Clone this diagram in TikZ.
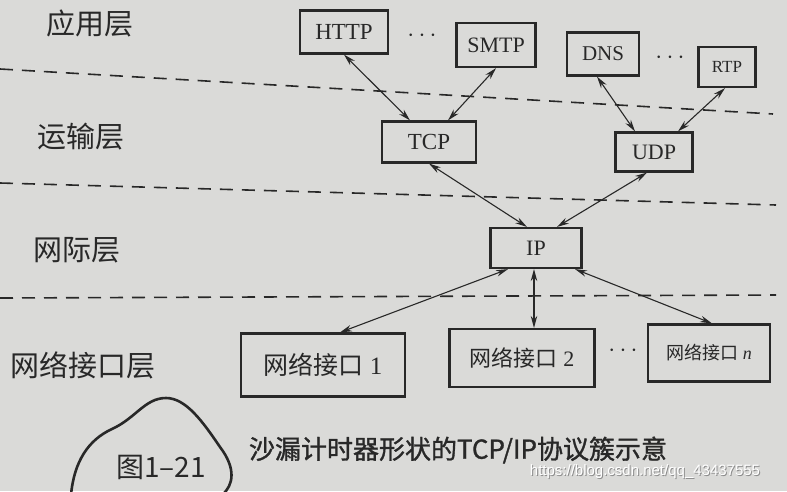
\documentclass[tikz,border=0pt]{standalone}
\usepackage{fontspec}
\setmainfont{Liberation Serif}
\newfontfamily\cjk{Noto Sans CJK SC}
\newfontfamily\cjkbold[FakeBold=1.2]{Noto Sans CJK SC}
\newfontfamily\wmfont{Liberation Sans}
\usetikzlibrary{arrows.meta}
\definecolor{paper}{RGB}{218,218,216}
\definecolor{ink}{RGB}{40,40,40}
\begin{document}
\begin{tikzpicture}[x=1pt,y=-1pt,
  box/.style={draw=ink, line width=2.2pt, inner sep=0pt, text=ink, align=center},
  link/.style={draw=ink, line width=1.1pt, {Stealth[length=12pt,width=6.5pt]}-{Stealth[length=12pt,width=6.5pt]}},
  layer/.style={text=ink, font=\cjk\fontsize{29}{33}\selectfont},
  sep/.style={draw=ink, line width=1.6pt, dash pattern=on 13pt off 9pt},
  dots/.style={text=ink, font=\fontsize{30}{34}\selectfont}
]
\useasboundingbox (0,0) rectangle (787,491);
\clip (0,0) rectangle (787,491);
\fill[paper] (0,0) rectangle (787,491);

% separators
\coordinate (s1a) at (0,69);  \coordinate (s1b) at (773,114);
\coordinate (s2a) at (0,183); \coordinate (s2b) at (776,205);
\coordinate (s3a) at (0,298); \coordinate (s3b) at (776,295);
\draw[sep] (s1a) -- (s1b);
\draw[sep] (s2a) -- (s2b);
\draw[sep] (s3a) -- (s3b);

% layer labels
\node[layer] (l1) at (90,23)  {应用层};
\node[layer] (l2) at (81,137) {运输层};
\node[layer] (l3) at (77,250) {网际层};
\node[layer] (l4) at (83,365) {网络接口层};

% boxes
\node[box, minimum width=88pt, minimum height=43pt, font=\fontsize{23}{26}\selectfont] (http) at (344,32) {HTTP};
\node[box, minimum width=79pt, minimum height=44pt, font=\fontsize{22}{26}\selectfont] (smtp) at (496,45) {SMTP};
\node[box, minimum width=72pt, minimum height=43pt, font=\fontsize{21}{25}\selectfont] (dns) at (603,54) {DNS};
\node[box, minimum width=57pt, minimum height=40pt, font=\fontsize{17}{20}\selectfont] (rtp) at (727,67) {RTP};
\node[box, minimum width=94pt, minimum height=41pt, font=\fontsize{23}{26}\selectfont] (tcp) at (429,142) {TCP};
\node[box, minimum width=77pt, minimum height=39pt, font=\fontsize{22}{26}\selectfont] (udp) at (654,152) {UDP};
\node[box, minimum width=91pt, minimum height=40pt, font=\fontsize{22}{26}\selectfont] (ip) at (536,248) {IP};
\node[box, minimum width=164pt, minimum height=63pt, font=\fontsize{25}{28}\selectfont] (if1) at (323,365) {{\cjk 网络接口} 1};
\node[box, minimum width=145pt, minimum height=58pt, font=\fontsize{22}{26}\selectfont] (if2) at (522,358) {{\cjk 网络接口} 2};
\node[box, minimum width=122pt, minimum height=57pt, font=\fontsize{18}{22}\selectfont] (ifn) at (709,353) {{\cjk 网络接口} \textit{n}};

% ellipses
\node[dots] (d1) at (422,36) {$\cdots$};
\node[dots] (d2) at (670,58) {$\cdots$};
\node[dots] (d3) at (623,351) {$\cdots$};

% connectors
\draw[link] (http.south) -- ([xshift=-19pt]tcp.north);
\draw[link] (smtp.south) -- ([xshift=19pt]tcp.north);
\draw[link] ([xshift=-6pt]dns.south) -- ([xshift=-19pt]udp.north);
\draw[link] ([xshift=-2pt]rtp.south) -- ([xshift=24pt]udp.north);
\draw[link] (tcp.south) -- ([xshift=-9pt]ip.north);
\draw[link] ([xshift=-7pt]udp.south) -- ([xshift=21pt]ip.north);
\draw[link] ([xshift=-28pt]ip.south) -- ([xshift=17pt]if1.north);
\draw[link] ([xshift=-2pt]ip.south) -- ([xshift=12pt]if2.north);
\draw[link] ([xshift=39pt]ip.south) -- ([xshift=3pt]ifn.north);

% caption
\draw[ink, line width=2.6pt] (71,495) .. controls (74,462) and (88,440) .. (112,429)
  .. controls (136,418) and (145,398) .. (166,398)
  .. controls (186,398) and (203,422) .. (220,447)
  .. controls (236,468) and (234,485) .. (222,495);
\node[text=ink, font=\cjk\fontsize{28}{32}\selectfont] (fig) at (161,467) {图1–21};
\node[text=ink, font=\cjkbold\fontsize{26}{30}\selectfont] (cap) at (458,450) {沙漏计时器形状的TCP/IP协议簇示意};
\node[text=black!45, font=\wmfont\fontsize{15}{18}\selectfont] (wms) at (646,473) {https://blog.csdn.net/qq\_43437555};
\node[text=white, font=\wmfont\fontsize{15}{18}\selectfont] (wm) at (645,472) {https://blog.csdn.net/qq\_43437555};
\end{tikzpicture}
\end{document}
